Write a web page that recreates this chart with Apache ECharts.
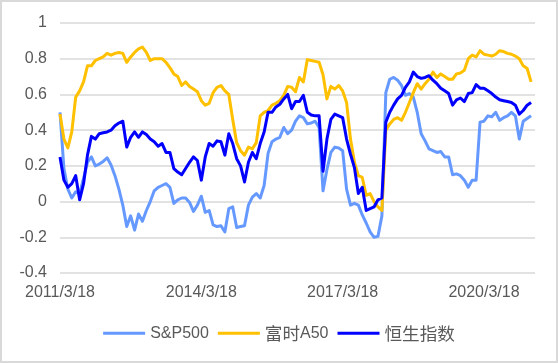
<!DOCTYPE html>
<html><head><meta charset="utf-8">
<script src="https://cdn.jsdelivr.net/npm/echarts@6/dist/echarts.min.js"></script>
<style>html,body{margin:0;padding:0;background:#fff}#c{width:558px;height:363px}</style>
</head><body><div id="c"></div>
<script>
// Monthly observation dates 2011/3/18 .. 2021/4/18
var startYear = 2011, startMonth = 3, monthCount = 122;
var categories = [];
for (var k = 0; k < monthCount; k++) {
  var m = startMonth - 1 + k;
  categories.push((startYear + Math.floor(m / 12)) + '/' + (m % 12 + 1) + '/18');
}
var tickLabels = ['2011/3/18', '2014/3/18', '2017/3/18', '2020/3/18'];
var seriesNames = ['S&P500', '富时A50', '恒生指数'];

var sp500 = [0.50,0.185,0.07,0.02,0.055,0.045,0.13,0.22,0.25,0.20,
  0.21,0.225,0.245,0.205,0.145,0.07,-0.02,-0.14,-0.08,-0.16,
  -0.07,-0.11,-0.05,0.0,0.06,0.08,0.09,0.10,0.08,-0.01,
  0.01,0.02,0.02,-0.005,-0.055,-0.02,0.03,-0.06,-0.05,-0.13,
  -0.14,-0.135,-0.17,-0.04,-0.03,-0.145,-0.14,-0.135,-0.02,0.025,
  0.045,0.02,0.09,0.27,0.335,0.35,0.36,0.415,0.38,0.40,
  0.45,0.48,0.47,0.435,0.44,0.45,0.415,0.06,0.18,0.275,
  0.305,0.30,0.285,0.07,-0.02,-0.01,-0.02,-0.075,-0.12,-0.17,
  -0.20,-0.195,-0.08,0.61,0.685,0.695,0.68,0.65,0.595,0.605,
  0.585,0.50,0.38,0.34,0.295,0.285,0.275,0.28,0.25,0.25,
  0.15,0.155,0.145,0.12,0.08,0.12,0.12,0.445,0.45,0.48,
  0.475,0.50,0.455,0.47,0.48,0.50,0.48,0.35,0.45,0.465,
  0.48,null];

var a50 = [0.49,0.35,0.30,0.39,0.585,0.62,0.67,0.76,0.76,0.79,
  0.80,0.81,0.83,0.82,0.83,0.835,0.83,0.78,0.81,0.835,
  0.855,0.865,0.835,0.79,0.80,0.80,0.80,0.78,0.75,0.715,
  0.70,0.65,0.67,0.645,0.63,0.615,0.565,0.54,0.55,0.61,
  0.64,0.65,0.62,0.60,0.46,0.33,0.285,0.26,0.305,0.295,
  0.33,0.48,0.50,0.51,0.54,0.55,0.565,0.595,0.645,0.64,
  0.615,0.695,0.67,0.795,0.79,0.785,0.78,0.71,0.575,0.645,
  0.63,0.65,0.62,0.555,0.35,0.22,0.145,0.135,0.035,0.045,
  0.0,-0.03,-0.05,0.40,0.435,0.46,0.47,0.455,0.50,0.555,
  0.61,0.66,0.63,0.66,0.685,0.725,0.695,0.715,0.70,0.685,
  0.685,0.715,0.72,0.735,0.80,0.82,0.81,0.845,0.825,0.82,
  0.815,0.825,0.845,0.84,0.83,0.825,0.815,0.80,0.76,0.745,
  0.67,null];

var hsi = [0.25,0.12,0.08,0.10,0.145,0.01,0.10,0.26,0.365,0.35,
  0.38,0.385,0.39,0.40,0.425,0.44,0.45,0.305,0.36,0.39,
  0.36,0.39,0.375,0.35,0.335,0.31,0.325,0.275,0.275,0.185,
  0.165,0.15,0.185,0.22,0.25,0.23,0.12,0.25,0.325,0.31,
  0.34,0.335,0.26,0.38,0.325,0.24,0.20,0.11,0.22,0.275,
  0.24,0.325,0.39,0.50,0.50,0.53,0.545,0.575,0.60,0.52,
  0.56,0.56,0.595,0.50,0.485,0.48,0.48,0.17,0.35,0.46,
  0.49,0.48,0.47,0.35,0.265,0.19,0.045,0.08,-0.05,-0.04,
  -0.03,0.01,0.02,0.445,0.50,0.54,0.575,0.595,0.64,0.67,
  0.725,0.70,0.69,0.695,0.705,0.68,0.66,0.635,0.62,0.605,
  0.54,0.57,0.58,0.56,0.605,0.61,0.655,0.635,0.635,0.62,
  0.605,0.585,0.57,0.565,0.56,0.555,0.54,0.49,0.51,0.54,
  0.555,null];

var colors = ['#6699ff', '#ffc000', '#0000ff'];
var font = '"Liberation Sans", "Noto Sans CJK SC", sans-serif';

var chart = echarts.init(document.getElementById('c'), null, {renderer: 'canvas'});
function mk(name, data, color) {
  return {name: name, type: 'line', data: data, symbol: 'none', showSymbol: false,
    lineStyle: {width: 3, color: color, join: 'round'}, itemStyle: {color: color},
    animation: false, z: 2};
}
chart.setOption({
  animation: false,
  graphic: [{type: 'rect', shape: {x: 1, y: 1, width: 556, height: 361},
    style: {fill: null, stroke: '#d9d9d9', lineWidth: 2}, silent: true}],
  grid: {left: 60, right: 23, top: 23, height: 250},
  legend: {bottom: 16, left: 'center', icon: 'rect', itemWidth: 42, itemHeight: 3, itemGap: 9,
    textStyle: {color: '#595959', fontSize: 16, fontFamily: font,
      rich: {c: {color: '#595959', fontSize: 17.6, fontFamily: '"Noto Sans CJK SC", sans-serif'}}},
    formatter: function (name) { return name.replace(/([\u4e00-\u9fff]+)/g, '{c|$1}'); },
    data: seriesNames},
  xAxis: {type: 'category', data: categories, boundaryGap: false,
    axisLine: {show: false, onZero: false}, axisTick: {show: false},
    splitLine: {show: false},
    axisLabel: {color: '#595959', fontSize: 16, fontFamily: font, margin: 12,
      interval: function (i, v) { return tickLabels.indexOf(v) >= 0; }}},
  yAxis: {type: 'value', min: -0.4, max: 1, interval: 0.2,
    axisLine: {show: false}, axisTick: {show: false},
    splitLine: {lineStyle: {color: '#d9d9d9', width: 1.5}},
    axisLabel: {color: '#595959', fontSize: 16, fontFamily: font, margin: 13}},
  series: [mk(seriesNames[0], sp500, colors[0]), mk(seriesNames[1], a50, colors[1]), mk(seriesNames[2], hsi, colors[2])]
});
</script></body></html>
